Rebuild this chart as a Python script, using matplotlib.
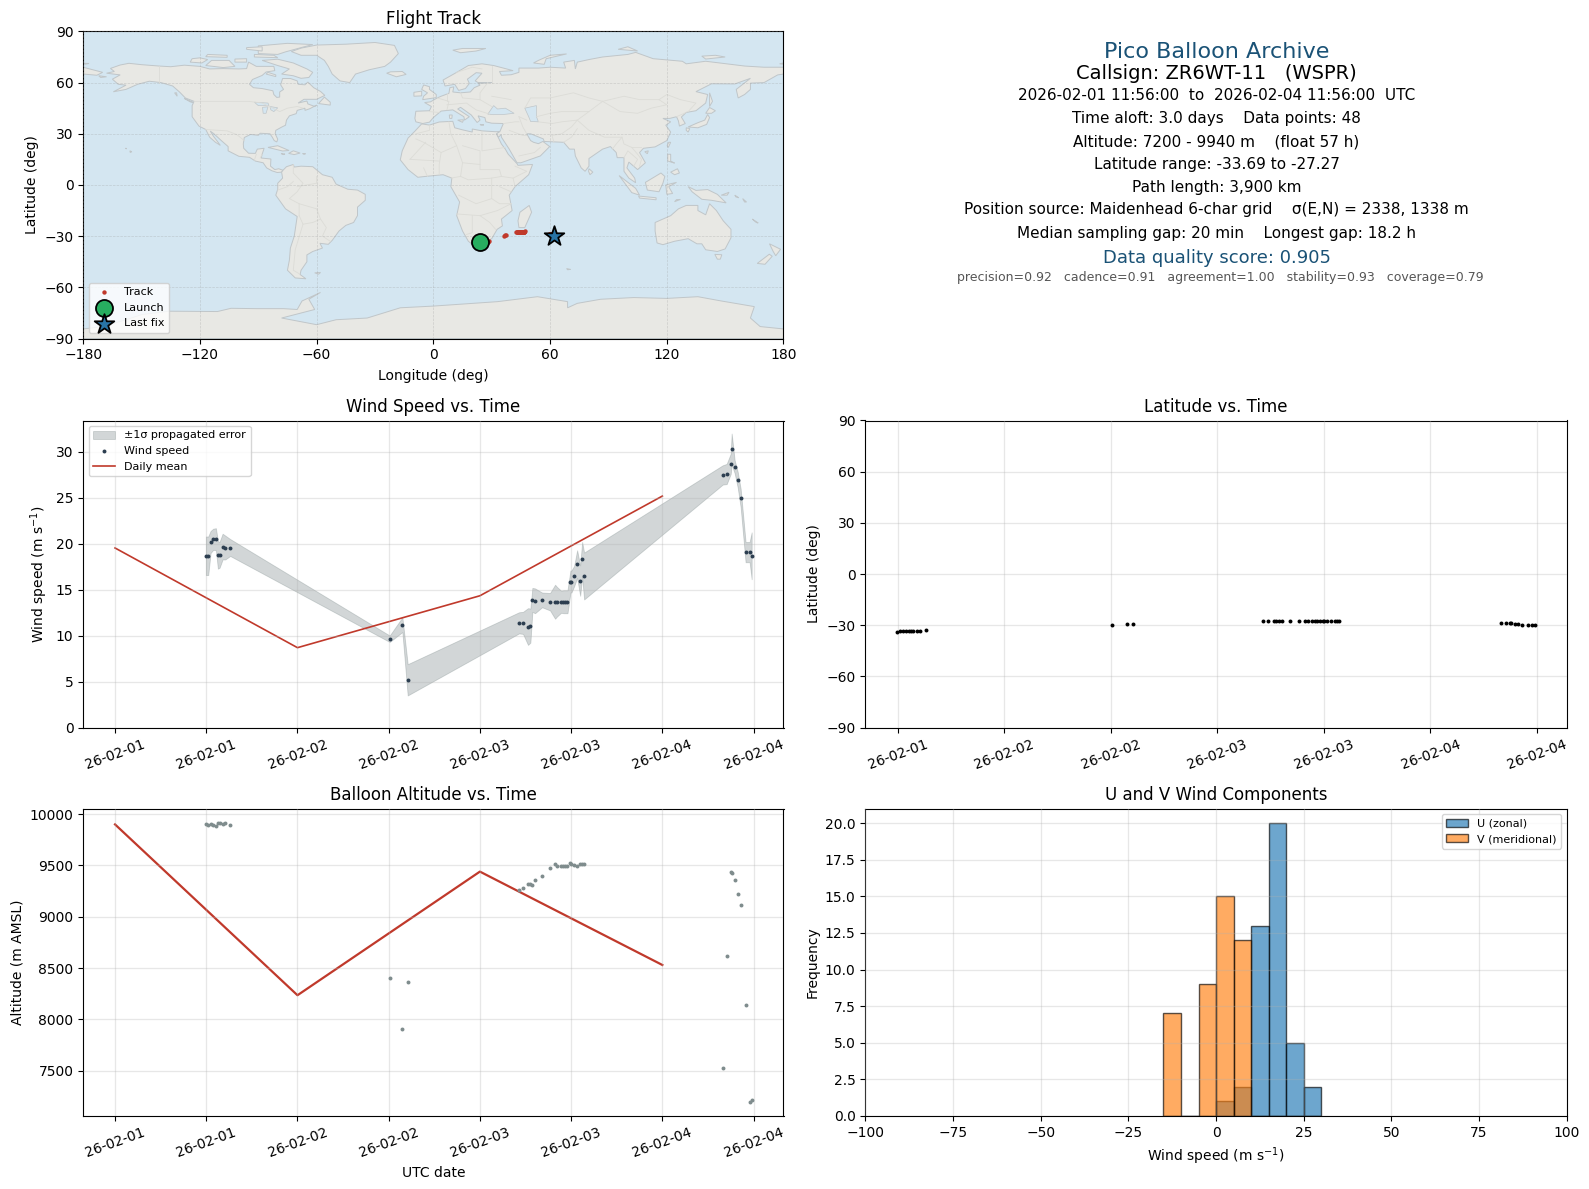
import matplotlib
matplotlib.use("Agg")
import matplotlib.pyplot as plt
import matplotlib.dates as mdates
from matplotlib.patches import Polygon
import pandas as pd
import numpy as np

# ---------- time base (hours after 2026-02-01 00:00 UTC) ----------
hours = [11.95, 12.26, 12.57, 12.92, 13.27, 13.53, 13.75, 14.15, 14.5, 15.15,
         36.13, 37.8, 38.5,
         53.14, 53.67, 54.33, 54.64, 54.9, 55.25, 56.18, 57.23, 57.89, 58.15, 58.68, 58.99, 59.25, 59.52,
         59.91, 60.04, 60.4, 60.79, 61.19, 61.45, 61.71,
         79.94, 80.46, 80.99, 81.12, 81.51, 81.91, 82.30, 82.95, 83.48, 83.75]
wind = [18.7, 18.7, 20.2, 20.5, 20.5, 18.8, 18.8, 19.7, 19.6, 19.6,
        9.67, 11.2, 5.2,
        11.4, 11.4, 11.0, 11.1, 13.9, 13.8, 13.9, 13.7, 13.7, 13.7, 13.7, 13.7, 13.7, 13.7,
        15.9, 15.9, 16.5, 17.8, 16.0, 18.3, 16.5,
        27.5, 27.6, 28.7, 30.3, 28.4, 27.0, 25.0, 19.1, 19.1, 18.7]
wind_err = [2.1, 2.1, 1.2, 1.15, 1.2, 1.5, 1.4, 1.4, 1.3, 0.92,
            0.35, 0.8, 1.7,
            1.15, 1.2, 2.0, 1.85, 1.3, 1.35, 0.8, 0.95, 1.85, 1.6, 1.2, 1.25, 1.25, 1.25,
            1.2, 1.2, 1.1, 1.5, 1.65, 1.9, 2.55,
            1.05, 1.1, 1.1, 1.7, 0.7, 0.85, 1.0, 1.1, 1.1, 2.55]
lat = [-33.69, -33.4, -33.2, -33.1, -33.1, -33.1, -33.1, -33.1, -33.2, -32.8,
       -30.0, -29.4, -29.4,
       -27.4, -27.4, -27.4, -27.4, -27.4, -27.4, -27.4, -27.4, -27.4, -27.4, -27.4, -27.4, -27.4, -27.3,
       -27.3, -27.3, -27.3, -27.3, -27.3, -27.3, -27.27,
       -28.5, -28.5, -28.9, -28.9, -29.0, -29.5, -29.6, -29.6, -29.6, -29.7]
lon = [24.2, 24.8, 25.3, 25.9, 26.4, 26.8, 27.1, 27.6, 28.0, 28.6,
       36.3, 37.0, 37.5,
       42.5, 42.8, 43.0, 43.3, 43.5, 43.8, 44.1, 44.4, 44.7, 44.9, 45.2, 45.5, 45.7, 45.9,
       46.1, 46.2, 46.4, 46.5, 46.6, 46.8, 47.0,
       59.6, 59.8, 60.1, 60.3, 60.5, 60.9, 61.2, 61.6, 61.9, 62.0]
altitude = [9902, 9899, 9902, 9892, 9882, 9918, 9915, 9905, 9912, 9892,
            8401, 7910, 8362,
            9256, 9285, 9315, 9321, 9312, 9354, 9393, 9471, 9513, 9490, 9490, 9490, 9490, 9497,
            9520, 9515, 9503, 9490, 9510, 9510, 9510,
            7521, 8613, 9441, 9422, 9354, 9217, 9110, 8135, 7196, 7218]

day_hours = [0, 24, 48, 72]
wind_daily = [19.55, 8.7, 14.35, 25.2]
alt_daily = [9900, 8235, 9440, 8530]

launch_point = (24.2, -33.69)
last_point = (62.0, -29.7)

hist_edges = [-15, -10, -5, 0, 5, 10, 15, 20, 25, 30]
u_counts = [0, 0, 0, 1, 2, 13, 20, 5, 2]
v_counts = [7, 0, 9, 15, 12, 0, 0, 0, 0]

# ---------- coastlines (lon, lat) ----------
north_america = [(-168,65.5),(-164,66.5),(-166,68.3),(-161,70.3),(-156.5,71.3),(-150,70.5),(-141,69.7),(-135,69.3),(-128,70.2),(-120,69.5),(-115,68),(-108,68.2),(-100,68),(-96,68.2),(-95,72),(-91,69.5),(-85,69.5),(-82,69.5),(-81.5,67),(-86,66.2),(-88,64.2),(-93,61.8),(-94.5,59),(-92.5,57),(-88,56.5),(-82.5,55.2),(-82,53),(-80.5,51.3),(-79,51.5),(-79,54.5),(-77,56),(-78.5,58.7),(-77.5,62.4),(-73.5,62.4),(-70,61),(-69.5,59),(-66,58.7),(-64.5,60.3),(-61.5,57),(-58,54.8),(-55.8,52.5),(-60,50.2),(-66.5,50.2),(-69.5,48),(-65,49.2),(-64.5,47.5),(-61,46),(-60,46.8),(-63.5,44.7),(-66,43.7),(-66,45),(-70,43.7),(-70.5,41.8),(-74,40.5),(-75.5,38),(-76,35),(-78,33.9),(-81,32),(-81.3,30),(-80,26.8),(-80.5,25.2),(-81.8,26),(-82.8,28),(-84,30),(-89,30.3),(-90,29.1),(-94,29.6),(-97.2,27.8),(-97.7,24),(-97.5,21.5),(-95,18.6),(-91.5,18.5),(-90.5,21),(-87,21.5),(-88,18),(-88.5,15.8),(-83.5,15.2),(-83.7,11),(-81.5,9),(-79.5,9.5),(-77.3,8.6),(-78,7.5),(-80.3,7.3),(-83,8.3),(-85.7,10),(-87.5,13),(-91.5,14),(-94.5,16.2),(-100,16.8),(-105.5,20),(-105.5,22.5),(-109,26),(-112.8,30),(-114.7,31.6),(-113,28.5),(-111,25.5),(-109.5,23.2),(-112,25),(-115,28),(-117,32.5),(-120.5,34.5),(-124,40),(-124,46.5),(-123,49),(-127.5,51),(-130.5,54.5),(-134,58),(-140,60),(-146,60.8),(-152,59),(-158,56),(-164.5,54.6),(-158,58.5),(-162,59),(-165,62),(-161,64.5),(-168,65.5)]
south_america = [(-77.3,8.6),(-75.5,10.7),(-72,12),(-71.5,10.5),(-68,11),(-62,10.7),(-57,6),(-52,4.5),(-50,0.5),(-44,-2.5),(-39,-3),(-35,-5.5),(-35,-9),(-39,-13),(-39,-18),(-41,-22),(-45,-23.7),(-48.5,-27),(-52,-32.5),(-54,-34.8),(-58.3,-34.2),(-57,-37),(-62,-39),(-65,-41),(-65,-45),(-68,-50),(-68.5,-52.5),(-65.5,-55),(-71,-54.5),(-75,-50),(-74,-44),(-73.5,-37),(-71.5,-30),(-70,-18.5),(-76,-14),(-81,-6),(-80,-2.5),(-80,1),(-77.5,4),(-78,7.5)]
africa = [(-6,35.8),(-2,35.1),(3,36.9),(10,37.3),(11,33.5),(15,32.3),(20,31),(20,32.8),(25,31.7),(32,31.2),(34.2,31.3),(32.5,29.9),(35,24),(37,21),(38.5,18),(43,12.5),(43.5,11.5),(51,12),(49,6),(42,-1),(39,-6),(40.5,-15),(35,-20),(35.5,-24),(32.8,-26),(30,-31.5),(25.5,-34),(20,-34.8),(18,-33),(15,-27),(12,-18),(13.5,-10),(9,-1),(9.5,4),(5,6),(-4,5),(-8,4.5),(-13,9),(-17,14.7),(-16,20),(-13,27.5),(-9.5,31.5)]
eurasia = [(-9,37),(-9.5,39),(-9,43.2),(-2,43.5),(-1,46),(-4.5,48.3),(-1.5,48.7),(2,51),(4,52),(8,53.7),(8.5,57),(10.5,57.5),(10,54.5),(14,54),(19,54.5),(21,57),(24,58.5),(23,59.5),(30,60),(23,60),(21.5,61),(25,65.5),(22,65.8),(17.5,62),(18.5,59.5),(16.5,56.5),(13,55.4),(11,59),(6,58),(5,61.5),(12,66),(18,70),(25,71),(31,70),(41,67),(34,66.5),(35,64.3),(40,64.6),(44,66),(44,68.5),(54,68.5),(60,69),(68,68.5),(67,72),(72.5,73),(73,68),(74,72),(80,73.5),(87,75),(100,76.5),(104,77.7),(113,74),(128,72.5),(130,71),(140,72.5),(160,69.7),(170,69),(180,69),(180,65),(177,64.5),(170,60),(163,59.7),(163,56),(160,53),(156.7,51),(155.7,56),(163,62.5),(155,59.2),(143,59.3),(135,54.7),(141,53),(140,48),(135,43.5),(130,42.5),(127.5,39.8),(129.5,36),(126.5,34.5),(126,37.5),(125,40),(121.5,39),(118,39),(122,37),(119.5,35),(122,31),(120,26),(114,22.3),(108,21.5),(106,19),(109,13),(105,9),(100.5,13.4),(99.5,10),(103.5,4),(104,1.3),(100.5,4),(98,8),(98,16),(94.5,16),(94,19),(91,22.5),(87,21),(80,15.5),(80,11),(78,8),(76,10),(73,17),(72.5,21),(70,21),(67,25),(57,25.5),(56.5,27),(50,30),(48,30),(50,26),(51.5,25),(54,24.2),(56.3,25.5),(59.8,22.5),(55,17),(45,13),(43,13),(39,21),(35,28),(34.9,29.5),(33.5,28),(32.5,30),(34.2,31.3),(36,36),(30,36.2),(27,37),(26.5,39.5),(23,40.5),(24,38),(22.5,36.6),(19.5,41),(14,45.5),(12.5,44.5),(18.5,40),(16,38),(15.7,40),(10,44),(4,43.3),(0,39.5),(-2,36.8),(-5.5,36)]
chukotka = [(-180,69),(-175,67.5),(-170,66),(-173,64.3),(-180,65)]
greenland = [(-73,78.2),(-68,80.2),(-60,82),(-45,82.5),(-30,83.5),(-20,81.8),(-18,77),(-22,72),(-25,69.5),(-33,67.5),(-40,65),(-43,60),(-48,61),(-52,65),(-54,69.5),(-56,73),(-60,76),(-68,76)]
australia = [(114,-22),(122,-18),(126,-14),(130,-12),(136,-12),(136,-15),(140,-17.5),(142,-11),(145.5,-15),(149,-21),(153,-26),(153,-31),(150,-37.5),(146,-39),(140,-38),(138,-34.5),(135.5,-34.5),(131,-31.5),(124,-33),(118,-35),(115,-34),(114,-27)]
antarctica = [(-180,-84.4),(-170,-83),(-158,-79),(-150,-76),(-136,-74),(-111,-74.2),(-104,-72.3),(-91,-72.5),(-77,-72.5),(-70,-73),(-67.5,-68),(-58,-63),(-64,-67),(-61,-73),(-78,-78),(-60,-81.9),(-50,-79),(-34,-78),(-17,-72),(0,-71),(33,-68.4),(53.5,-65.5),(69,-68.4),(69,-72),(74,-69.4),(86,-67),(103,-66),(120,-66.5),(136,-65.5),(148,-68),(165,-71.3),(163,-78),(168,-83),(180,-84.4),(180,-90),(-180,-90)]
islands = [
 [(49.3,-12),(50.5,-16),(47,-25),(44,-25),(43.5,-21),(44.5,-16)],
 [(-62,66),(-64,63),(-68,62.5),(-72,64),(-78,65),(-74,68),(-80,70),(-88,73),(-80,73.7),(-72,71.5),(-65,68)],
 [(-117,70),(-108,68.8),(-102,69.5),(-105,73),(-114,73)],
 [(-125,72),(-119,71.5),(-116,73.5),(-120,74.5),(-124,74)],
 [(-90,77),(-80,76.5),(-76,78),(-68,80.5),(-62,82.3),(-75,83),(-90,81.5)],
 [(-92,75),(-80,74.6),(-82,76),(-92,76.5)],
 [(-96,79.5),(-88,78.5),(-88,81),(-96,80.5)],
 [(-117,75.2),(-106,74.8),(-106,76),(-116,76.5)],
 [(-102,72),(-96,72),(-96,74),(-102,73.8)],
 [(-86,65),(-81,63.5),(-81,64.5),(-85,66)],
 [(-59,47.7),(-53,46.8),(-53,48.5),(-56,51.5)],
 [(-128,50.7),(-123.5,48.4),(-125,48.7)],
 [(-133,54),(-131.7,52),(-132,54)],
 [(-85,22),(-80,23),(-74.2,20.2),(-77.5,19.9)],
 [(-74.4,18.5),(-72,20),(-68.5,18.7),(-71.5,17.8)],
 [(-78.3,18.4),(-76.3,18.1),(-77,17.8)],
 [(-67.2,18.4),(-65.7,18.3),(-66.5,18)],
 [(-156,20),(-155,19.5),(-155.8,19)],
 [(-158.2,21.6),(-157.7,21.3),(-158,21.2)],
 [(-61,-51.5),(-58,-51.3),(-59,-52.3)],
 [(-5.5,50),(1.5,51.2),(1.5,53),(-2,56),(-2,57.6),(-5,58.6),(-6,56),(-3,54),(-5,52)],
 [(-10,52),(-6,52.2),(-6,55),(-10,54.3)],
 [(-24,65.5),(-19,63.4),(-14,64.8),(-16,66.5),(-22,66.3)],
 [(10,79),(14,77.5),(22,78.5),(27,80),(15,80)],
 [(51.5,71.5),(57,70.7),(58,74),(68.5,76.8),(60,76),(54,73)],
 [(95,79.5),(105,78.5),(100,81)],
 [(138,75.5),(145,76),(150,75),(140,73.8)],
 [(178,71),(180,71.5),(180,70.8)],
 [(142,54),(143.5,49),(142,46),(142,50)],
 [(140,42),(143,42),(145,43.5),(142,45.4)],
 [(131,34),(136,33.5),(140.5,35.5),(142,39.5),(141,41.3),(139.5,38),(136,36.5)],
 [(130,33.5),(131.8,33),(131,31),(130,32)],
 [(121,25),(122,25),(120.8,22),(120.2,23)],
 [(108.7,19.5),(110.5,20),(110,18.3)],
 [(120.5,18),(122,18),(122,14),(124,12.8),(120.5,14)],
 [(122,7.5),(125.5,9.5),(126.5,7),(124,6)],
 [(109,1.5),(117,7),(119,5),(118,1),(116,-4),(110,-3)],
 [(95.5,5.5),(104,-2),(106,-6),(102,-4.5)],
 [(105.5,-6.5),(114.5,-7.5),(114.5,-8.7),(106,-7.7)],
 [(119.5,0),(125,1.5),(121,-1),(123,-5),(120,-5.5)],
 [(131,-1),(135,-3.2),(141,-2.7),(146,-5.5),(150.5,-10.5),(143,-9),(138,-8.4),(133,-4)],
 [(80,9.5),(82,7.5),(80.5,6),(79.8,8)],
 [(124,-9.8),(127,-8.5),(125,-8.6)],
 [(148,-6),(152,-4.3),(151,-6)],
 [(155,-6),(157,-7.5),(155.5,-7)],
 [(159,-8),(161,-10),(160,-10)],
 [(164,-20),(167,-22.3),(166,-22)],
 [(172.8,-34.5),(178.5,-37.7),(176,-41.5),(174.7,-39)],
 [(172.7,-40.6),(174.2,-41.8),(170.5,-46.5),(166.5,-46)],
 [(144.7,-40.7),(148.3,-40.9),(147.5,-43.5),(146,-43.5)],
 [(68.5,-49),(70.5,-49.5),(69,-49.7)],
 [(8.2,41),(9.7,41),(9.5,39),(8.4,39)],
 [(12.5,38),(15.5,38.2),(15,36.7)],
 [(24,35.5),(26,35.2),(24.5,35)],
 [(-172,64),(-168,63.4),(-171,63)],
 [(-180,71.3),(-177,71.2),(-179,70.8)],
]
water_bodies = [
 [(28,41.5),(31,46.5),(33,44.5),(37,45),(41.5,42),(36,41.3),(31,41.2)],
 [(47,45),(53,46.5),(53,40),(54,37),(50,37.2),(49,40)],
 [(-92,48.5),(-85,48),(-84.5,46.5),(-90,46.5)],
 [(-87.8,45.5),(-85,45.8),(-86,42),(-87.5,42)],
 [(-84,46),(-80,45.2),(-82,43),(-83.5,44)],
]
borders = [
 [(-141,69.7),(-141,60)], [(-123,49),(-95,49),(-88,48),(-82.5,45),(-79,43),(-75,45),(-70,46),(-67,45)],
 [(-117,32.5),(-106,31.7),(-101,29.5),(-97.2,26)], [(-92,14.5),(-91,18)], [(-88,18),(-89,15.8)],
 [(-72,12),(-72,7),(-67,1),(-70,-4),(-74,-8),(-69,-11),(-69,-18)], [(-60,5),(-60,1),(-70,-1)],
 [(-69,-11),(-60,-14),(-58,-20),(-55,-25),(-57,-30),(-53,-33)], [(-69,-18),(-67,-23),(-71,-38),(-72,-50),(-69,-52)],
 [(-58,-20),(-62,-22),(-67,-23)], [(-80,-3),(-75,-1),(-72,2)],
 [(-9,30),(-2,32),(-2,35)], [(8,37),(9,30),(12,23),(4,19),(-5,25),(-9,27)], [(25,31.5),(25,20),(37,22)],
 [(15,23),(24,20),(24,9),(34,9),(35,5),(41,4),(42,-1)], [(12,23),(15,13),(14,5),(9,4)], [(4,19),(3,12),(3,6)],
 [(-12,15),(-4,25)], [(-5,10),(-3,5)], [(-12,15),(3,14)], [(15,13),(24,12)], [(14,5),(18,3),(30,4),(35,5)],
 [(30,4),(30,-8),(22,-11),(13,-6)], [(12,-17),(24,-18),(33,-15),(40,-11)], [(30,-8),(34,-11),(40,-11)],
 [(20,-18),(20,-28),(17,-29)], [(24,-18),(29,-22),(32,-26)], [(34,-1),(40,-4)], [(42,11),(48,8),(41,4)],
 [(-2,43),(3,42.5)], [(2,51),(8,49),(7,44)], [(7,54),(7,49)], [(14,54),(15,51),(24,50),(30,46)],
 [(24,50),(24,54),(28,60)], [(7,47),(17,48),(22,44),(29,41.5)], [(12,66),(20,69),(25,68)], [(30,70),(30,60)],
 [(40,50),(30,52)], [(47,45),(50,51),(60,51),(72,54),(80,51),(87,49)], [(53,40),(60,42),(66,43),(72,43),(80,43),(87,49)],
 [(87,49),(98,52),(106,50),(116,50),(120,53),(127,50),(135,48),(131,43)], [(87,49),(96,43),(105,42),(112,45),(120,47),(116,50)],
 [(80,43),(74,38),(80,32),(88,28),(97,28),(98,24),(102,22),(107,22)], [(61,36),(66,37),(74,38),(71,34),(66,30),(61,29)],
 [(67,25),(71,28),(74,33)], [(61,36),(54,37)], [(61,29),(62,25)], [(44,40),(48,38)], [(44,40),(46,34),(48,30)],
 [(36,36),(42,37),(44,37)], [(39,32),(46,29),(48,29)], [(44,17),(52,19),(55,22)], [(97,28),(94,24),(92,21)],
 [(98,16),(100,20),(102,18),(105,15),(103,11)], [(102,22),(105,18),(107,15),(106,11)], [(125,40),(130,42.5)],
]
land_polys = [north_america, south_america, africa, eurasia, chukotka, greenland, australia, antarctica] + islands

# ---------- text ----------
summary_lines = [
 ("Pico Balloon Archive", 50, 16, "#1a5276", 0),
 ("Callsign: ZR6WT-11   (WSPR)", 72, 14, "black", -1),
 ("2026-02-01 11:56:00  to  2026-02-04 11:56:00  UTC", 93, 11, "black", 0),
 ("Time aloft: 3.0 days    Data points: 48", 116, 11, "black", -1),
 ("Altitude: 7200 - 9940 m    (float 57 h)", 139, 11, "black", -1),
 ("Latitude range: -33.69 to -27.27", 161, 11, "black", 0),
 ("Path length: 3,900 km", 184, 11, "black", 0),
 ("Position source: Maidenhead 6-char grid    σ(E,N) = 2338, 1338 m", 206, 11, "black", -1),
 ("Median sampling gap: 20 min    Longest gap: 18.2 h", 229, 11, "black", -1),
 ("Data quality score: 0.905", 254, 13, "#1a5276", 0),
 ("precision=0.92   cadence=0.91   agreement=1.00   stability=0.93   coverage=0.79", 273, 9, "#555555", 3),
]

BASE = pd.Timestamp("2026-02-01")
times = (BASE + pd.to_timedelta(np.array(hours), unit="h")).to_pydatetime()
day_times = (BASE + pd.to_timedelta(np.array(day_hours), unit="h")).to_pydatetime()

W, H = 1589, 1189
fig = plt.figure(figsize=(W / 100, H / 100), dpi=100)

def make_axes(x0, y0, x1, y1):
    return fig.add_axes([x0 / W, 1 - y1 / H, (x1 - x0) / W, (y1 - y0) / H])

LX0, LX1, RX0, RX1 = 83.2, 783.5, 865.4, 1566.7
ax_map = make_axes(LX0, 31.4, LX1, 338.5)
ax_wind = make_axes(LX0, 420.5, LX1, 727.6)
ax_lat = make_axes(RX0, 420.5, RX1, 727.6)
ax_alt = make_axes(LX0, 808.6, LX1, 1115.8)
ax_hist = make_axes(RX0, 808.6, RX1, 1115.8)

GRID = dict(color="#b0b0b0", alpha=0.3, linewidth=0.9)
date_fmt = mdates.DateFormatter("%y-%m-%d")

def date_axis(ax):
    ax.xaxis.set_major_locator(mdates.HourLocator(byhour=[0, 12]))
    ax.xaxis.set_major_formatter(date_fmt)
    ax.tick_params(axis="x", labelrotation=20)
    ax.grid(True, **GRID)
    ax.set_axisbelow(False)

# ---------- map ----------
ax_map.set_facecolor("#d4e6f1")
for poly in land_polys:
    ax_map.add_patch(Polygon(poly, closed=True, facecolor="#e8e8e4", edgecolor="#c0c6c9", linewidth=0.7, zorder=1))
for poly in water_bodies:
    ax_map.add_patch(Polygon(poly, closed=True, facecolor="#d4e6f1", edgecolor="#c0c6c9", linewidth=0.5, zorder=1.1))
for line in borders:
    xs, ys = zip(*line)
    ax_map.plot(xs, ys, color="#dcdcd7", linewidth=0.6, zorder=1.2)
ax_map.grid(True, color="#999999", linestyle="--", linewidth=0.5, alpha=0.35, zorder=1.5)
ax_map.set_axisbelow(False)
ax_map.scatter(lon, lat, s=10, color="#c0392b", linewidths=0, zorder=3, label="Track")
ax_map.scatter(*launch_point, s=150, color="#27ae60", edgecolors="black", linewidths=1.3, zorder=4, label="Launch")
ax_map.scatter(*last_point, s=220, marker="*", color="#2874a6", edgecolors="black", linewidths=1.3, zorder=4, label="Last fix")
ax_map.set_xlim(-180, 180)
ax_map.set_ylim(-90, 90)
ax_map.set_xticks(range(-180, 181, 60))
ax_map.set_yticks(range(-90, 91, 30))
ax_map.set_xlabel("Longitude (deg)", labelpad=4.7)
ax_map.set_ylabel("Latitude (deg)")
ax_map.set_title("Flight Track", pad=5.3)
ax_map.legend(loc="lower left", fontsize=8)

# ---------- wind ----------
w = np.array(wind)
e = np.array(wind_err)
ax_wind.fill_between(times, w - e, w + e, color="#7f8c8d", alpha=0.35, linewidth=0.6, label="±1σ propagated error")
ax_wind.scatter(times, wind, s=8, color="#2c3e50", linewidths=0, zorder=3, label="Wind speed")
ax_wind.plot(day_times, wind_daily, color="#c0392b", linewidth=1.2, label="Daily mean")
ax_wind.set_ylim(bottom=0)
date_axis(ax_wind)
ax_wind.set_ylabel("Wind speed (m s$^{-1}$)")
ax_wind.set_title("Wind Speed vs. Time")
ax_wind.legend(loc="upper left", fontsize=8)

# ---------- latitude ----------
ax_lat.scatter(times, lat, s=8, color="black", linewidths=0, zorder=3)
ax_lat.set_ylim(-90, 90)
ax_lat.set_yticks(range(-90, 91, 30))
date_axis(ax_lat)
ax_lat.set_ylabel("Latitude (deg)")
ax_lat.set_title("Latitude vs. Time")

# ---------- altitude ----------
ax_alt.scatter(times, altitude, s=8, color="#7f8c8d", linewidths=0, zorder=3)
ax_alt.plot(day_times, alt_daily, color="#c0392b", linewidth=1.6)
date_axis(ax_alt)
ax_alt.set_xlabel("UTC date")
ax_alt.set_ylabel("Altitude (m AMSL)")
ax_alt.set_title("Balloon Altitude vs. Time")

# ---------- histogram ----------
edges = np.array(hist_edges)
ax_hist.bar(edges[:-1], u_counts, width=np.diff(edges), align="edge", color="#1f77b4", alpha=0.65,
            edgecolor="black", linewidth=1.0, label="U (zonal)")
ax_hist.bar(edges[:-1], v_counts, width=np.diff(edges), align="edge", color="#ff7f0e", alpha=0.65,
            edgecolor="black", linewidth=1.0, label="V (meridional)")
ax_hist.set_xlim(-100, 100)
ax_hist.set_ylim(0, 21)
ax_hist.set_yticks(np.arange(0, 20.1, 2.5))
ax_hist.grid(True, **GRID)
ax_hist.set_axisbelow(False)
ax_hist.set_xlabel("Wind speed (m s$^{-1}$)")
ax_hist.set_ylabel("Frequency")
ax_hist.set_title("U and V Wind Components")
ax_hist.legend(loc="upper right", fontsize=8)

# ---------- summary ----------
SCALE = 1589 / 1568
for txt, y, size, col, dx in summary_lines:
    fig.text((1200 + 1 + dx) * SCALE / W, 1 - (y + 1) * SCALE / H, txt, ha="center", va="center", fontsize=size, color=col)

fig.savefig("out.png", dpi=100)
